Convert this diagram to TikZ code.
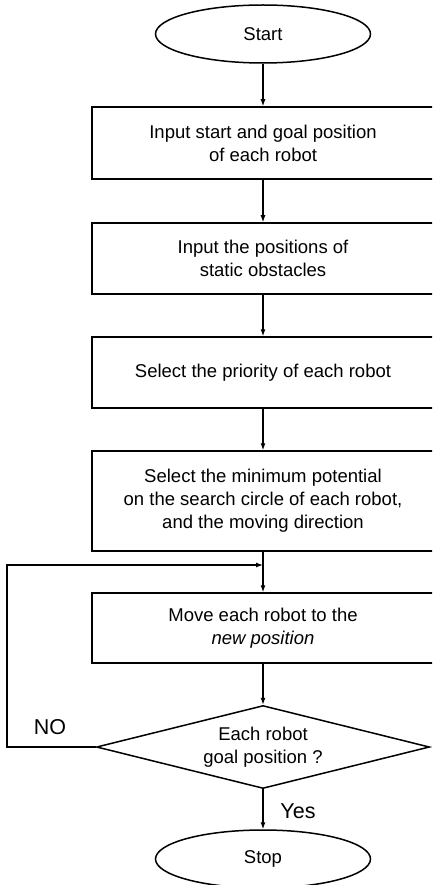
\documentclass[tikz,border=0pt]{standalone}
\usepackage{fontspec}
\setmainfont{Liberation Sans}
\usetikzlibrary{shapes.geometric,arrows.meta}
\begin{document}
\begin{tikzpicture}[x=1pt,y=-1pt,
  font=\fontsize{18.5}{23}\selectfont,
  line width=1.5pt,
  terminal/.style={draw,ellipse,minimum width=215pt,minimum height=58pt,inner sep=0pt},
  process/.style={draw,rectangle,minimum width=342pt,inner sep=0pt,align=center},
  decision/.style={draw,diamond,shape aspect=4,minimum width=333pt,minimum height=83pt,inner sep=0pt,align=center},
  flow/.style={-{Latex[length=7pt,width=5pt]},line width=1.2pt},
  lbl/.style={inner sep=0pt,font=\fontsize{21.5}{26}\selectfont}]
\useasboundingbox (0,0) rectangle (432,885);
\clip (0,0) rectangle (432,885);

% terminals, process boxes and the test
\node[terminal] (start) at (263,34) {Start};
\node[process,minimum height=72pt] (input) at (263,143)
  {Input start and goal position\\of each robot};
\node[process,minimum height=71pt] (obst) at (263,258.5)
  {Input the positions of\\static obstacles};
\node[process,minimum height=71pt] (prio) at (263,372.5)
  {Select the priority of each robot};
\node[process,minimum height=100pt] (select) at (263,501)
  {Select the minimum potential\\on the search circle of each robot,\\and the moving direction};
\node[process,minimum height=70pt] (move) at (263,628)
  {Move each robot to the\\\textit{new position}};
\node[decision] (goal) at (263,747) {Each robot\\goal position ?};
\node[terminal] (stop) at (263,859) {Stop};

% points of the feedback loop
\coordinate (join) at (263,565);
\coordinate (back) at (7,747);

\draw[flow] (start) -- (input);
\draw[flow] (input) -- (obst);
\draw[flow] (obst) -- (prio);
\draw[flow] (prio) -- (select);
\draw[flow] (select) -- (move);
\draw[flow] (move) -- (goal);
\draw[flow] (goal) -- (stop);
\draw[flow] (goal.west) -- (back) |- (join);

\node[lbl] (no) at (50,727) {NO};
\node[lbl] (yes) at (298,811) {Yes};
\end{tikzpicture}
\end{document}
